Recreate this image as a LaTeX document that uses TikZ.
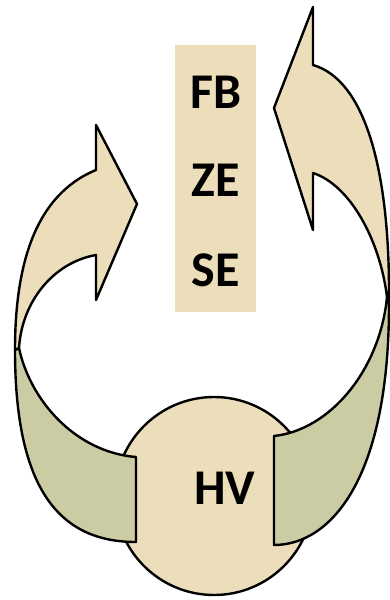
\documentclass[tikz,border=0pt]{standalone}
\usepackage{fontspec}
\setmainfont{Carlito}
\usetikzlibrary{positioning}
\definecolor{cParch}{HTML}{ECDDBB}
\definecolor{cBack}{HTML}{CBCCA3}

\begin{document}
\begin{tikzpicture}[x=1pt, y=-1pt,
  face/.style={draw=black, line width=2.4pt, line join=round, fill=cParch},
  back/.style={draw=black, line width=2.4pt, line join=round, fill=cBack},
  lbl/.style={font=\fontsize{50}{50}\selectfont\bfseries, inner sep=0pt}
]
\useasboundingbox (0,0) rectangle (389,600);
% panel with the three labels
\node[fill=cParch, minimum width=81pt, minimum height=267pt, inner sep=0pt] (panel) at (215.5,178.5) {};
\node[lbl] (fb) at (216,92) {FB};
\node[lbl] (ze) at (216,180) {ZE};
\node[lbl] (se) at (216,270) {SE};
% circle at the bottom
\node[circle, draw=black, line width=2.4pt, fill=cParch, minimum size=198pt, inner sep=0pt] (hvc) at (214,496) {};
\node[lbl] (hv) at (225,488) {HV};
% left curved arrow
\draw[back] (15,350) .. controls (15,490) and (60,542) .. (136,542) -- (136,457)
  .. controls (75,452) and (30,400) .. (19,348) -- cycle;
\draw[face] (15,350) .. controls (15,265) and (35,195) .. (96,170) -- (96,125) -- (137,204)
  -- (96,300) -- (96,255) .. controls (55,262) and (22,300) .. (19,348) -- cycle;
% right curved arrow
\draw[back] (389,300) .. controls (390,480) and (330,545) .. (274,545) -- (274,436)
  .. controls (330,430) and (380,370) .. (387,297) -- cycle;
\draw[face] (389,300) .. controls (390,170) and (365,80) .. (313,65) -- (313,7) -- (274,108)
  -- (313,230) -- (313,173) .. controls (350,185) and (380,240) .. (387,297) -- cycle;
\end{tikzpicture}
\end{document}
